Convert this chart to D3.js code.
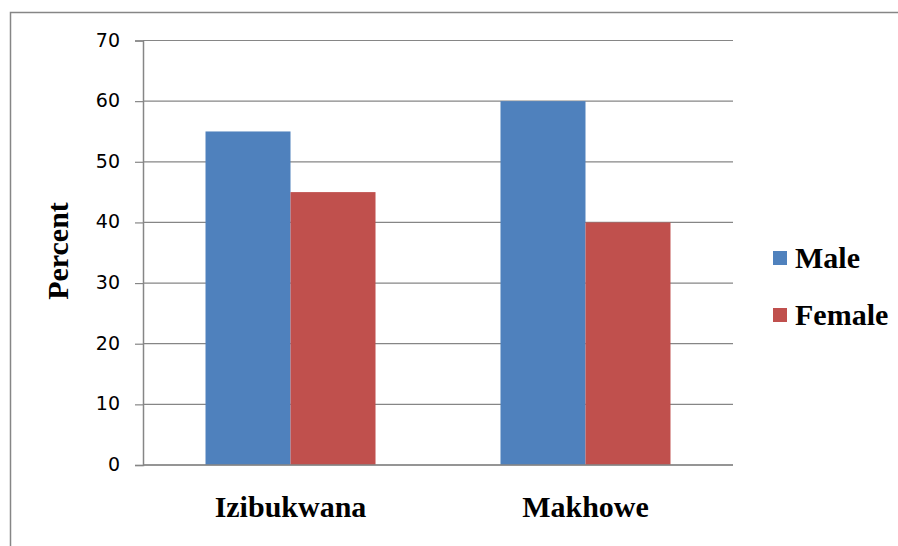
<!DOCTYPE html>
<html>
<head>
<meta charset="utf-8">
<script src="https://cdn.jsdelivr.net/npm/d3@7"></script>
<style>
  html, body { margin: 0; padding: 0; background: #fff; }
  svg { display: block; }
</style>
</head>
<body>
<div id="chart"></div>
<script>
// Share of respondents by sex in each locality
const categories = ["Izibukwana", "Makhowe"];
const seriesNames = ["Male", "Female"];
const maleValues = [55, 60];
const femaleValues = [45, 40];
const yTicks = [0, 10, 20, 30, 40, 50, 60, 70];

const seriesColors = ["#4F81BD", "#C0504D"];
const gridColor = "#868686";

const width = 898, height = 546;
const plot = { left: 143, right: 733, top: 40.5, bottom: 465 };

const svg = d3.select("#chart").append("svg")
  .attr("width", width).attr("height", height);

// outer frame
svg.append("path")
  .attr("d", `M10.5,${height} V12.5 H${width}`)
  .attr("fill", "none").attr("stroke", gridColor).attr("stroke-width", 1.5);

const x = d3.scaleBand()
  .domain(categories)
  .range([plot.left, plot.right])
  .paddingInner(0.4237)
  .paddingOuter(0.2119);

const xSub = d3.scaleBand()
  .domain(seriesNames)
  .range([0, x.bandwidth()]);

const y = d3.scaleLinear()
  .domain([0, 70])
  .range([plot.bottom, plot.top]);

// horizontal gridlines + y axis
const yAxis = d3.axisLeft(y)
  .tickValues(yTicks)
  .tickSize(8)
  .tickPadding(15);

const gy = svg.append("g")
  .attr("transform", `translate(${plot.left},0)`)
  .call(yAxis);
gy.select(".domain").attr("stroke", gridColor).attr("stroke-width", 1.5);
gy.selectAll(".tick line").attr("stroke", gridColor).attr("stroke-width", 1.2);
gy.selectAll(".tick text")
  .attr("font-family", "DejaVu Sans")
  .attr("font-size", 19)
  .attr("fill", "#000")
  .attr("dy", "0.29em");

svg.append("g").selectAll("line")
  .data(yTicks)
  .join("line")
  .attr("x1", plot.left).attr("x2", plot.right)
  .attr("y1", d => y(d)).attr("y2", d => y(d))
  .attr("stroke", gridColor).attr("stroke-width", 1.2);

// bars
const rows = categories.map((c, i) => ({
  category: c,
  values: [maleValues[i], femaleValues[i]]
}));

const groups = svg.append("g").selectAll("g")
  .data(rows)
  .join("g")
  .attr("transform", d => `translate(${x(d.category)},0)`);

groups.selectAll("rect")
  .data(d => d.values.map((v, j) => ({ series: seriesNames[j], value: v, j })))
  .join("rect")
  .attr("x", d => xSub(d.series))
  .attr("width", xSub.bandwidth())
  .attr("y", d => y(d.value))
  .attr("height", d => y(0) - y(d.value))
  .attr("fill", d => seriesColors[d.j]);

// baseline
svg.append("line")
  .attr("x1", plot.left).attr("x2", plot.right)
  .attr("y1", y(0)).attr("y2", y(0))
  .attr("stroke", gridColor).attr("stroke-width", 1.5);

// category labels
svg.append("g").selectAll("text")
  .data(categories)
  .join("text")
  .attr("x", d => x(d) + x.bandwidth() / 2)
  .attr("y", 517)
  .attr("text-anchor", "middle")
  .attr("font-family", "Liberation Serif")
  .attr("font-weight", "bold")
  .attr("font-size", 30)
  .attr("fill", "#000")
  .text(d => d);

// y axis title
svg.append("text")
  .attr("transform", "translate(68,251) rotate(-90)")
  .attr("text-anchor", "middle")
  .attr("font-family", "Liberation Serif")
  .attr("font-weight", "bold")
  .attr("font-size", 30)
  .attr("fill", "#000")
  .text("Percent");

// legend
const legend = svg.append("g").selectAll("g")
  .data(seriesNames)
  .join("g")
  .attr("transform", (d, i) => `translate(773,${251 + i * 57})`);

legend.append("rect")
  .attr("width", 14).attr("height", 14)
  .attr("fill", (d, i) => seriesColors[i]);

legend.append("text")
  .attr("x", 22).attr("y", 17)
  .attr("font-family", "Liberation Serif")
  .attr("font-weight", "bold")
  .attr("font-size", 30)
  .attr("fill", "#000")
  .text(d => d);
</script>
</body>
</html>
